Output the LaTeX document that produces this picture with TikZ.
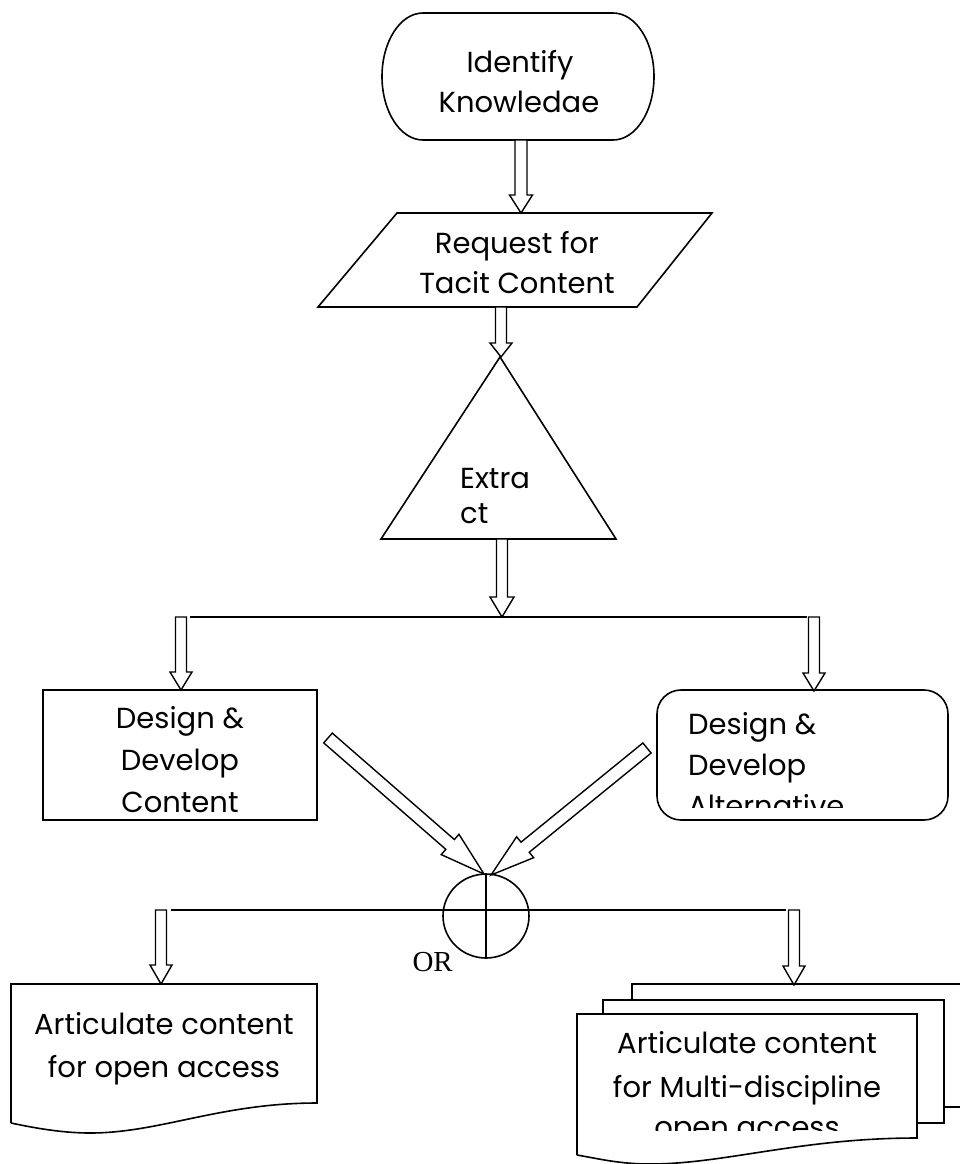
\documentclass[tikz,border=0pt]{standalone}
\usepackage{fontspec}
\setmainfont{Poppins}
\newfontfamily\orfont{Liberation Serif}
\usetikzlibrary{calc}

% Hollow block arrow: #1 tail, #2 tip, #3 half shaft width, #4 half head width, #5 head length
\newcommand\blockarrow[5]{%
  \coordinate (ba-h) at ($(#2)!#5pt!(#1)$);
  \draw[arrowline] ($(#1)!#3pt!90:(#2)$) -- ($(ba-h)!#3pt!-90:(#1)$)
    -- ($(ba-h)!#4pt!-90:(#1)$) -- (#2) -- ($(ba-h)!#4pt!90:(#1)$)
    -- ($(ba-h)!#3pt!90:(#1)$) -- ($(#1)!#3pt!-90:(#2)$) -- cycle;
}

\begin{document}
\begin{tikzpicture}[x=1pt,y=-1pt,
  shapeline/.style={draw, line width=1.6pt, line join=miter},
  arrowline/.style={draw, fill=white, line width=1.4pt, line join=miter},
  junction/.style={draw, line width=1.6pt},
  lbl/.style={font=\fontsize{29}{40}\selectfont, inner sep=0pt},
  orlbl/.style={font=\orfont\fontsize{29}{32}\selectfont, inner sep=0pt}]
\useasboundingbox (0,0) rectangle (960,1164);

% ---- terminator
\draw[shapeline] (423,13) -- (613,13)
  arc[start angle=-90, end angle=90, x radius=41, y radius=63.5] -- (423,140)
  arc[start angle=90, end angle=270, x radius=41, y radius=63.5] -- cycle;
\node[lbl, anchor=base] (tk1) at (520,72) {Identify};
\node[lbl, anchor=base] (tk2) at (519,112) {Knowledae};

% ---- input parallelogram
\draw[shapeline] (397,213) -- (712,213) -- (637,307) -- (318,307) -- cycle;
\node[lbl, anchor=base] (rq1) at (517,253) {Request for};
\node[lbl, anchor=base] (rq2) at (517,293) {Tacit Content};

% ---- extract triangle
\draw[shapeline] (500,357) -- (616,539) -- (381,539) -- cycle;
\node[lbl, anchor=base west] (ex1) at (460,488) {Extra};
\node[lbl, anchor=base west] (ex2) at (460,523) {ct};

% ---- design boxes
\draw[shapeline] (43,690) rectangle (317,820);
\node[lbl, anchor=base] (dc1) at (180,728) {Design \&};
\node[lbl, anchor=base] (dc2) at (180,770) {Develop};
\node[lbl, anchor=base] (dc3) at (180,812) {Content};

\draw[shapeline, rounded corners=24pt] (657,690) rectangle (948,820);
\begin{scope}
  \clip (657,690) rectangle (948,807);
  \node[lbl, anchor=base west] (da1) at (688,734) {Design \&};
  \node[lbl, anchor=base west] (da2) at (688,775) {Develop};
  \node[lbl, anchor=base west] (da3) at (688,816) {Alternative};
\end{scope}

% ---- connector points
\coordinate (tk-out) at (521,140);  \coordinate (rq-in) at (521,213);
\coordinate (rq-out) at (501,307);  \coordinate (ex-in) at (501,357);
\coordinate (ex-out) at (502,539);  \coordinate (split1) at (502,617);
\coordinate (l1-top) at (181,617);  \coordinate (dc-in) at (181,690);
\coordinate (r1-top) at (814,617);  \coordinate (da-in) at (814,691);
\coordinate (dc-out) at (328,738);  \coordinate (or-in) at (484,874);
\coordinate (da-out) at (647,748);  \coordinate (or-in2) at (491,875);
\coordinate (l2-top) at (161,910);  \coordinate (oa-in) at (161,984);
\coordinate (r2-top) at (794,910);  \coordinate (md-in) at (794,985);

% ---- junction lines
\draw[junction] (190,617) -- (807,617);
\draw[junction] (171,910) -- (786,910);

% ---- OR junction
\draw[shapeline] (486,916) ellipse[x radius=43, y radius=42];
\draw[junction] (486,874) -- (486,958);
\node[orlbl, anchor=base east] (orl) at (453,971) {OR};

% ---- block arrows
\blockarrow{tk-out}{rq-in}{6}{11.5}{18}
\blockarrow{rq-out}{ex-in}{5.5}{11}{14}
\blockarrow{ex-out}{split1}{5.5}{12}{20}
\blockarrow{l1-top}{dc-in}{5.5}{11}{18}
\blockarrow{r1-top}{da-in}{5.5}{11}{18}
\blockarrow{dc-out}{or-in}{6.5}{13.5}{45}
\blockarrow{da-out}{or-in2}{6.5}{13.5}{44}
\blockarrow{l2-top}{oa-in}{5.5}{11}{19}
\blockarrow{r2-top}{md-in}{5.5}{11}{19}

% ---- single document
\draw[shapeline] (11,1123) -- (11,984) -- (317,984) -- (317,1103)
  .. controls (220,1103) and (160,1133) .. (90,1133)
  .. controls (60,1133) and (30,1127) .. (11,1123);
\node[lbl, anchor=base] (oa1) at (164,1034) {Articulate content};
\node[lbl, anchor=base] (oa2) at (164,1077) {for open access};

% ---- multi document stack
\draw[shapeline] (632,1000) -- (632,984) -- (975,984);
\draw[shapeline] (945,1107) -- (975,1107);
\draw[shapeline] (603,1014) -- (603,1000) -- (944,1000) -- (944,1123) -- (917,1123);
\draw[shapeline, fill=white] (577,1155) -- (577,1014) -- (917,1014) -- (917,1138)
  .. controls (800,1138) and (725,1164) .. (650,1164)
  .. controls (620,1164) and (600,1159) .. (577,1155);
\node[lbl, anchor=base] (md1) at (747,1053) {Articulate content};
\node[lbl, anchor=base] (md2) at (747,1097) {for Multi-discipline};
\begin{scope}
  \clip (577,1014) rectangle (917,1130);
  \node[lbl, anchor=base] (md3) at (747,1137) {open access};
\end{scope}
\end{tikzpicture}
\end{document}
